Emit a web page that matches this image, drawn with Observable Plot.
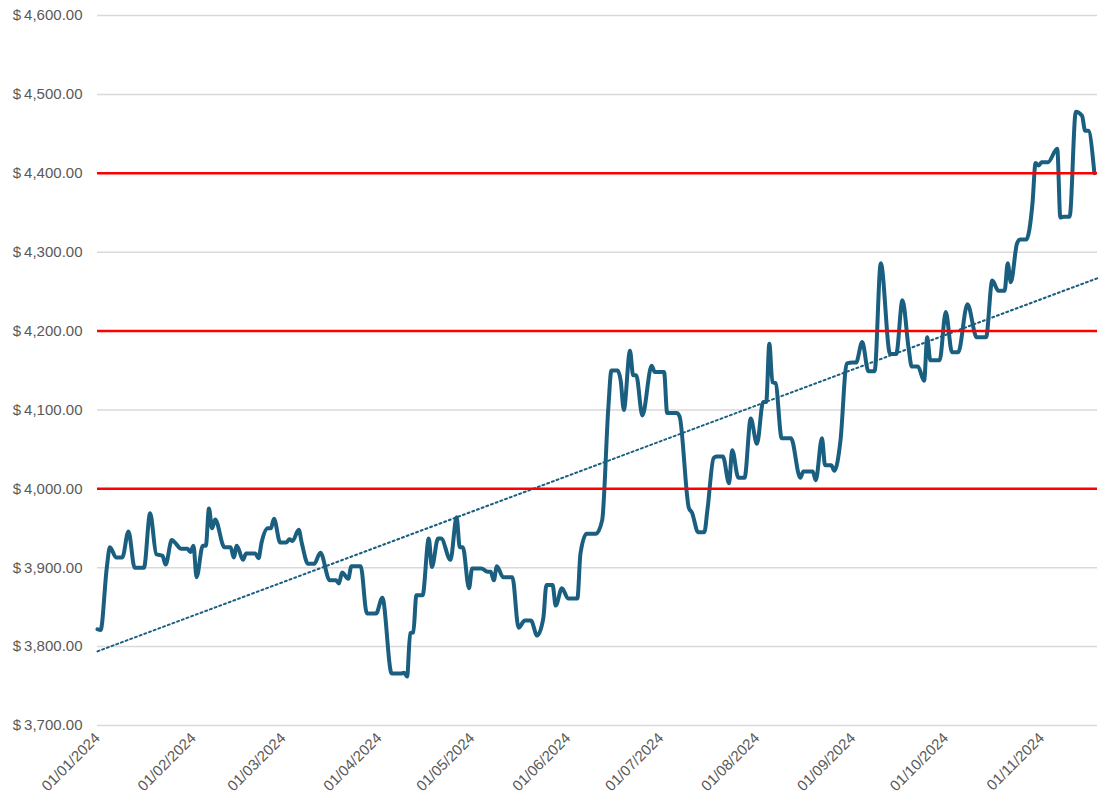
<!DOCTYPE html>
<html>
<head>
<meta charset="utf-8">
<script src="https://cdn.jsdelivr.net/npm/d3@7"></script>
<script src="https://cdn.jsdelivr.net/npm/@observablehq/plot@0.6"></script>
<style>
  html, body { margin: 0; padding: 0; background: #ffffff; }
  #chart { width: 1099px; height: 801px; overflow: hidden; }
</style>
</head>
<body>
<div id="chart"></div>
<script>
// ---- Data ----
const dates = [
  "2024-01-01","2024-01-02","2024-01-04","2024-01-05","2024-01-07","2024-01-09","2024-01-11","2024-01-13",
  "2024-01-16","2024-01-18","2024-01-20","2024-01-22","2024-01-23","2024-01-25","2024-01-26","2024-01-28",
  "2024-01-30","2024-01-31","2024-02-01","2024-02-02","2024-02-04","2024-02-05","2024-02-06","2024-02-07",
  "2024-02-08","2024-02-11","2024-02-13","2024-02-14","2024-02-15","2024-02-17","2024-02-18","2024-02-21",
  "2024-02-22","2024-02-23","2024-02-25","2024-02-26","2024-02-27","2024-02-29","2024-03-02","2024-03-03",
  "2024-03-04","2024-03-06","2024-03-07","2024-03-09","2024-03-11","2024-03-13","2024-03-16","2024-03-18",
  "2024-03-19","2024-03-20","2024-03-22","2024-03-23","2024-03-26","2024-03-28","2024-03-31","2024-04-02",
  "2024-04-05","2024-04-08","2024-04-09","2024-04-10","2024-04-11","2024-04-12","2024-04-13","2024-04-15",
  "2024-04-17","2024-04-18","2024-04-20","2024-04-21","2024-04-24","2024-04-26","2024-04-27","2024-04-28",
  "2024-04-30","2024-05-01","2024-05-04","2024-05-06","2024-05-07","2024-05-08","2024-05-09","2024-05-11",
  "2024-05-14","2024-05-16","2024-05-18","2024-05-20","2024-05-22","2024-05-24","2024-05-25","2024-05-27",
  "2024-05-28","2024-05-30","2024-06-01","2024-06-04","2024-06-05","2024-06-07","2024-06-10","2024-06-12",
  "2024-06-14","2024-06-15","2024-06-17","2024-06-18","2024-06-19","2024-06-21","2024-06-22","2024-06-23",
  "2024-06-25","2024-06-28","2024-06-29","2024-07-02","2024-07-03","2024-07-06","2024-07-07","2024-07-10",
  "2024-07-11","2024-07-13","2024-07-15","2024-07-16","2024-07-18","2024-07-19","2024-07-21","2024-07-23",
  "2024-07-24","2024-07-26","2024-07-28","2024-07-30","2024-08-01","2024-08-03","2024-08-04","2024-08-05",
  "2024-08-06","2024-08-07","2024-08-09","2024-08-12","2024-08-15","2024-08-16","2024-08-19","2024-08-20",
  "2024-08-22","2024-08-23","2024-08-25","2024-08-26","2024-08-28","2024-08-30","2024-09-01","2024-09-02",
  "2024-09-04","2024-09-06","2024-09-08","2024-09-10","2024-09-13","2024-09-15","2024-09-17","2024-09-19",
  "2024-09-20","2024-09-22","2024-09-24","2024-09-25","2024-09-26","2024-09-29","2024-10-01","2024-10-03",
  "2024-10-05","2024-10-08","2024-10-11","2024-10-14","2024-10-16","2024-10-18","2024-10-20","2024-10-21",
  "2024-10-22","2024-10-24","2024-10-25","2024-10-27","2024-10-29","2024-10-30","2024-10-31","2024-11-01",
  "2024-11-03","2024-11-06","2024-11-07","2024-11-08","2024-11-10","2024-11-12","2024-11-14","2024-11-15",
  "2024-11-16","2024-11-18"
];
const prices = [
  3822,3821,3900,3926,3913,3913,3946,3900,
  3900,3969,3917,3915,3904,3935,3932,3924,
  3924,3920,3928,3888,3928,3928,3975,3950,
  3961,3926,3926,3913,3928,3910,3918,3918,
  3912,3932,3950,3950,3962,3932,3932,3936,
  3934,3948,3931,3905,3905,3919,3884,3884,
  3880,3894,3886,3902,3902,3842,3842,3862,
  3766,3766,3767,3762,3817,3818,3865,3865,
  3937,3901,3937,3937,3910,3964,3926,3926,
  3874,3899,3899,3895,3895,3884,3902,3888,
  3888,3824,3833,3833,3814,3836,3878,3878,
  3852,3874,3861,3861,3918,3943,3943,3960,
  4103,4150,4150,4137,4100,4175,4144,4144,
  4093,4156,4148,4148,4096,4096,4092,3976,
  3970,3945,3945,3973,4039,4041,4041,4007,
  4049,4014,4014,4089,4057,4110,4110,4184,
  4135,4134,4064,4064,4014,4022,4022,4011,
  4064,4030,4030,4023,4062,4159,4160,4160,
  4186,4149,4149,4286,4171,4171,4239,4178,
  4155,4155,4137,4192,4163,4163,4224,4173,
  4173,4234,4192,4192,4264,4251,4251,4286,
  4262,4311,4316,4316,4362,4413,4410,4414,
  4414,4431,4344,4345,4345,4478,4473,4454,
  4454,4400
];
const trendDates = ["2024-01-01", "2024-11-19"];
const trendValues = [3794, 4267];
const thresholds = [4000, 4200, 4400];
const yTicks = [3700, 3800, 3900, 4000, 4100, 4200, 4300, 4400, 4500, 4600];
const xTickDates = ["2024-01-01","2024-02-01","2024-03-01","2024-04-01","2024-05-01","2024-06-01",
  "2024-07-01","2024-08-01","2024-09-01","2024-10-01","2024-11-01"];
const xDomain = ["2024-01-01", "2024-11-19"];

// ---- Build tables ----
const parse = d3.utcParse("%Y-%m-%d");
const series = dates.map((d, i) => ({date: parse(d), price: prices[i]}));
const trend = trendDates.map((d, i) => ({date: parse(d), price: trendValues[i]}));
const xTicks = xTickDates.map(parse);
const fmtDate = d3.utcFormat("%d/%m/%Y");
const fmtMoney = v => "$\u2009" + d3.format(",.2f")(v);

const LINE = "#1a5f80";

const chart = Plot.plot({
  width: 1099,
  height: 801,
  marginLeft: 97,
  marginRight: 2,
  marginTop: 15,
  marginBottom: 76,
  style: {fontFamily: "'Liberation Sans', Arial, sans-serif", fontSize: "15px", color: "#595959", background: "#ffffff"},
  x: {type: "utc", domain: xDomain.map(parse)},
  y: {domain: [3700, 4600]},
  marks: [
    Plot.ruleY(yTicks, {stroke: "#d9d9d9", strokeWidth: 1.5}),
    Plot.line(series, {x: "date", y: "price", curve: "monotone-x", stroke: LINE, strokeWidth: 4, strokeLinejoin: "round", strokeLinecap: "round"}),
    Plot.line(trend, {x: "date", y: "price", stroke: LINE, strokeWidth: 2, strokeDasharray: "2,3"}),
    Plot.ruleY(thresholds, {stroke: "#ff0000", strokeWidth: 2.5}),
    Plot.axisY({ticks: yTicks, tickFormat: fmtMoney, tickSize: 0, tickPadding: 15, label: null, fontSize: 15}),
    Plot.axisX({ticks: xTicks, tickFormat: fmtDate, tickRotate: -45, tickSize: 0, tickPadding: 10, label: null, fontSize: 15})
  ]
});
document.getElementById("chart").appendChild(chart);
</script>
</body>
</html>
